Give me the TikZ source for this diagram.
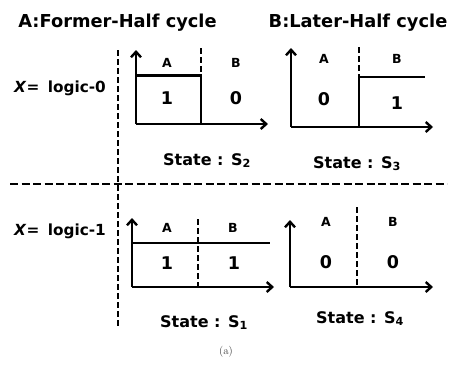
\documentclass[tikz,border=0pt]{standalone}
\usepackage{fontspec}
\setsansfont{DejaVu Sans}
\usetikzlibrary{arrows.meta}
\begin{document}
\begin{tikzpicture}[x=1pt,y=-1pt,
  every node/.style={font=\sffamily\bfseries, inner sep=0pt},
  axis/.style={line width=2.8pt, -{Straight Barb[length=5.5pt,width=10pt,line width=2.4pt]}},
  sig/.style={line width=2.8pt},
  divider/.style={line width=2.8pt, dash pattern=on 6pt off 3pt},
  sep/.style={line width=2.7pt, dash pattern=on 6pt off 3pt},
  hsep/.style={line width=2.7pt, dash pattern=on 8pt off 3.5pt},
  title/.style={font=\sffamily\bfseries\fontsize{17.8}{20}\selectfont, anchor=base},
  state/.style={font=\sffamily\bfseries\fontsize{16}{18}\selectfont, anchor=base},
  logic/.style={font=\sffamily\bfseries\fontsize{15.3}{18}\selectfont, anchor=base},
  ab/.style={font=\sffamily\bfseries\fontsize{12.5}{14}\selectfont},
  val/.style={font=\sffamily\bfseries\fontsize{17.5}{18}\selectfont}
]
\useasboundingbox (0,0) rectangle (452,365);

% titles
\node[title] (tA) at (117.5,27.5) {A:Former-Half cycle};
\node[title] (tB) at (358,27.5) {B:Later-Half cycle};

% logic labels
\node[logic] (l0) at (60,92) {\textit{X}=\hspace{0.55em}logic-0};
\node[logic] (l1) at (60,235) {\textit{X}=\hspace{0.55em}logic-1};

% separators
\coordinate (vs1) at (118,50);
\coordinate (vs2) at (118,326);
\draw[sep] (vs1) -- (vs2);
\coordinate (hs1) at (10,184);
\coordinate (hs2) at (447,184);
\draw[hsep] (hs1) -- (hs2);

% ---- plot S2 (top-left)
\coordinate (o1) at (136,124);
\coordinate (y1) at (136,50);
\coordinate (x1) at (268,124);
\coordinate (d1t) at (201,48);
\coordinate (d1m) at (201,75.5);
\coordinate (d1b) at (201,124);
\draw[axis] (o1) -- (y1);
\draw[axis] (o1) -- (x1);
\draw[sig] (136,75.5) -- (d1m) -- (d1b);
\draw[divider] (d1t) -- (d1m);
\node[ab] (a1) at (167,63) {A};
\node[ab] (b1) at (236,63) {B};
\node[val] (v1a) at (167,98) {1};
\node[val] (v1b) at (236,98) {0};
\node[state] (s2) at (207,165) {State : S\textsubscript{2}};

% ---- plot S3 (top-right)
\coordinate (o2) at (291,127);
\coordinate (y2) at (291,48);
\coordinate (x2) at (433,127);
\coordinate (d2t) at (359,47);
\coordinate (d2m) at (359,77);
\coordinate (d2b) at (359,127);
\draw[axis] (o2) -- (y2);
\draw[axis] (o2) -- (x2);
\draw[sig] (d2b) -- (d2m) -- (425,77);
\draw[divider] (d2t) -- (d2m);
\node[ab] (a2) at (324,59) {A};
\node[ab] (b2) at (397,59) {B};
\node[val] (v2a) at (324,99) {0};
\node[val] (v2b) at (397,103) {1};
\node[state] (s3) at (357,168) {State : S\textsubscript{3}};

% ---- plot S1 (bottom-left)
\coordinate (o3) at (132,287);
\coordinate (y3) at (132,218);
\coordinate (x3) at (274,287);
\coordinate (d3t) at (198,219);
\coordinate (d3b) at (198,287);
\draw[axis] (o3) -- (y3);
\draw[axis] (o3) -- (x3);
\draw[sig] (132,243) -- (270,243);
\draw[divider] (d3t) -- (d3b);
\node[ab] (a3) at (167,228) {A};
\node[ab] (b3) at (233,228) {B};
\node[val] (v3a) at (167,263) {1};
\node[val] (v3b) at (234,263) {1};
\node[state] (s1) at (204,327) {State : S\textsubscript{1}};

% ---- plot S4 (bottom-right)
\coordinate (o4) at (290,287);
\coordinate (y4) at (290,220);
\coordinate (x4) at (433,287);
\coordinate (d4t) at (357,207);
\coordinate (d4b) at (357,287);
\draw[axis] (o4) -- (y4);
\draw[axis] (o4) -- (x4);
\draw[divider] (d4t) -- (d4b);
\node[ab] (a4) at (326,222) {A};
\node[ab] (b4) at (393,222) {B};
\node[val] (v4a) at (326,262) {0};
\node[val] (v4b) at (393,262) {0};
\node[state] (s4) at (360,323) {State : S\textsubscript{4}};

% caption
\node[font=\rmfamily\fontsize{11}{12}\selectfont, text=black!75] (cap) at (226,352) {(a)};
\end{tikzpicture}
\end{document}
